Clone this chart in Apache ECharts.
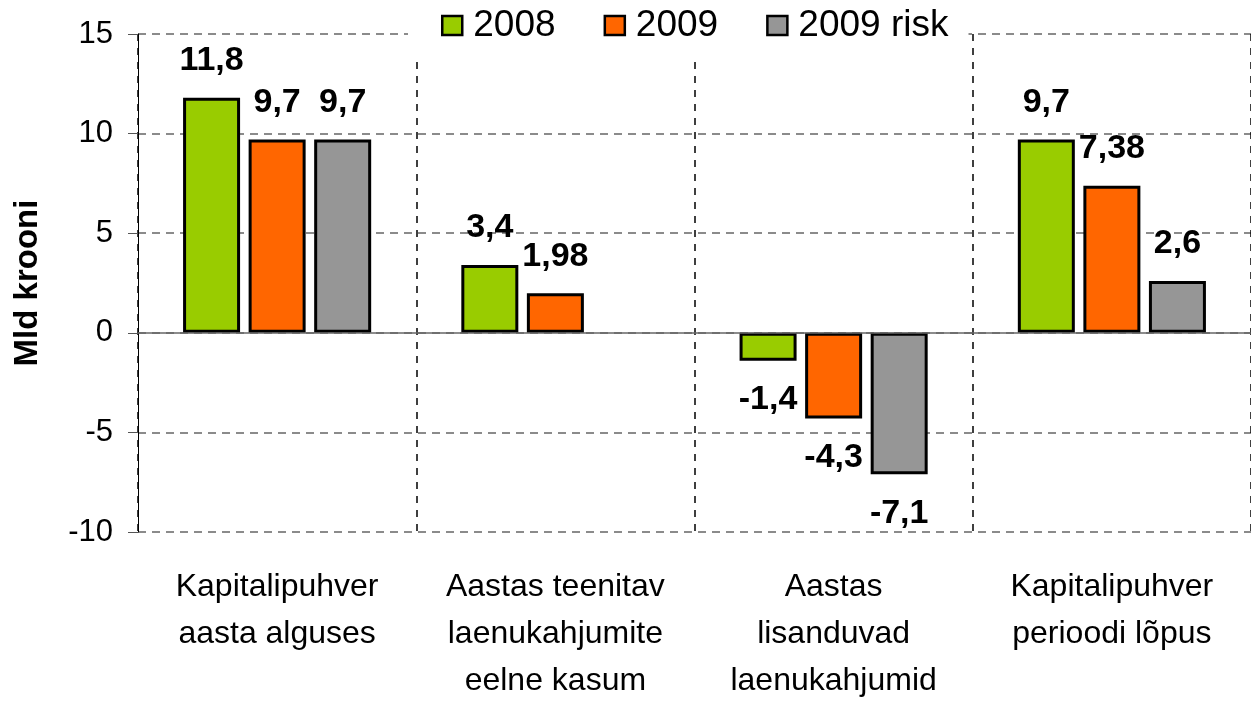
<!DOCTYPE html>
<html>
<head>
<meta charset="utf-8">
<script src="https://cdn.jsdelivr.net/npm/echarts@6/dist/echarts.min.js"></script>
<style>
  html, body { margin: 0; padding: 0; background: #fff; }
  #chart { width: 1251px; height: 706px; }
</style>
</head>
<body>
<div id="chart"></div>
<script>
// andmed
const categories = [
  'Kapitalipuhver\naasta alguses',
  'Aastas teenitav\nlaenukahjumite\neelne kasum',
  'Aastas\nlisanduvad\nlaenukahjumid',
  'Kapitalipuhver\nperioodi lõpus'
];
const seriesNames = ['2008', '2009', '2009 risk'];
const values2008 = [11.8, 3.4, -1.4, 9.7];
const values2009 = [9.7, 1.98, -4.3, 7.38];
const values2009risk = [9.7, null, -7.1, 2.6];
const colors = ['#99CC00', '#FF6600', '#969696'];

const font = 'Arial, "Liberation Sans", sans-serif';

// negatiivsete tulpade silt tulba alla
function toData(arr) {
  return arr.map(v => (v !== null && v < 0) ? { value: v, label: { position: 'bottom', distance: 22 } } : v);
}

function makeSeries(name, arr, color, withZeroLine) {
  const s = {
    name: name,
    type: 'bar',
    data: toData(arr),
    barWidth: 57,
    barGap: '15%',
    itemStyle: { color: color, borderColor: '#000', borderWidth: 3 },
    label: {
      show: true,
      position: 'top',
      distance: 20,
      color: '#000',
      fontFamily: font,
      fontWeight: 'bold',
      fontSize: 34,
      formatter: p => String(p.value).replace('.', ',')
    }
  };
  if (withZeroLine) {
    // nulljoon
    s.markLine = {
      silent: true,
      symbol: 'none',
      label: { show: false },
      lineStyle: { type: 'solid', color: '#666', width: 1.5 },
      data: [{ yAxis: 0 }]
    };
  }
  return s;
}

const myChart = echarts.init(document.getElementById('chart'));
const option = {
  animation: false,
  textStyle: { fontFamily: font },
  grid: { left: 138, top: 34, right: -12, bottom: 174 },
  legend: {
    left: 408,
    top: 0,
    padding: [7, 20, 15, 33],
    backgroundColor: '#fff',
    icon: 'rect',
    itemWidth: 20,
    itemHeight: 19,
    itemGap: 48,
    itemStyle: { borderColor: '#000', borderWidth: 2.5 },
    textStyle: { fontSize: 37, color: '#000', fontFamily: font, padding: [0, 0, 0, 6] },
    data: seriesNames
  },
  xAxis: {
    type: 'category',
    data: categories,
    axisLine: { show: false, onZero: false },
    axisTick: { show: false },
    axisLabel: {
      color: '#000',
      fontSize: 32,
      lineHeight: 47,
      margin: 32,
      interval: 0,
      fontFamily: font
    },
    splitLine: { show: true, lineStyle: { type: [7, 7], color: '#000', width: 1.5 } }
  },
  yAxis: {
    type: 'value',
    min: -10,
    max: 15,
    interval: 5,
    name: 'Mld krooni',
    nameLocation: 'middle',
    nameGap: 94,
    nameRotate: 90,
    nameTextStyle: { fontSize: 33, fontWeight: 'bold', color: '#000', fontFamily: font },
    axisLine: { show: true, lineStyle: { color: '#000', width: 1 } },
    axisTick: { show: true, length: 10, lineStyle: { color: '#555' } },
    axisLabel: { color: '#000', fontSize: 31, margin: 25, fontFamily: font },
    splitLine: { show: true, lineStyle: { type: [8, 6], color: '#666', width: 1.5 } }
  },
  series: [
    makeSeries(seriesNames[0], values2008, colors[0], true),
    makeSeries(seriesNames[1], values2009, colors[1], false),
    makeSeries(seriesNames[2], values2009risk, colors[2], false)
  ]
};
myChart.setOption(option);
window.addEventListener('resize', function () {
  myChart.resize();
});
</script>
</body>
</html>
